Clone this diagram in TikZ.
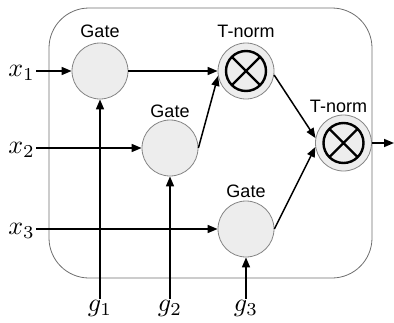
\documentclass[tikz,border=0pt]{standalone}
\usepackage{graphicx}
\usepackage{fontspec}
\setmainfont{Liberation Sans}
\usetikzlibrary{arrows.meta}
\definecolor{nodefill}{HTML}{EDEDED}
\definecolor{nodeline}{HTML}{858585}
\definecolor{boxline}{HTML}{6E6E6E}
\newcommand{\largemathlabel}[1]{\scalebox{2.6}{$#1$}}
\tikzset{
  arr/.style={line width=1.5pt, -{Triangle[length=10pt,width=8pt]}},
  gatenode/.style={circle, minimum size=56pt, inner sep=0pt, fill=nodefill, draw=nodeline, line width=0.8pt},
  tnormnode/.style={gatenode, path picture={
      \draw[draw=black, line width=2.4pt, shift={(path picture bounding box.center)}]
        (0,0) circle[radius=20pt] (45:20pt) -- (225:20pt) (135:20pt) -- (315:20pt);}},
  lbl/.style={inner sep=0pt, font=\fontsize{18}{20}\selectfont},
  mathlbl/.style={inner sep=1pt},
}
\begin{document}
\begin{tikzpicture}[x=1pt, y=-1pt]
\useasboundingbox (0,0) rectangle (394,322);
% outer box
\node[draw=boxline, line width=0.8pt, rounded corners=40pt, minimum width=323pt, minimum height=270pt, inner sep=0pt] (box) at (210.5,143) {};
% nodes
\node[gatenode] (gate1) at (100,71) {};
\node[gatenode] (gate2) at (170,148) {};
\node[gatenode] (gate3) at (246,229) {};
\node[tnormnode] (t1) at (246,71) {};
\node[tnormnode] (t2) at (343.5,143) {};
% labels
\node[lbl] (lg1) at (100,31.5) {Gate};
\node[lbl] (lg2) at (170,111) {Gate};
\node[lbl] (lg3) at (246,191) {Gate};
\node[lbl] (lt1) at (246,31.5) {T-norm};
\node[lbl] (lt2) at (338.5,106) {T-norm};
% inputs
\node[mathlbl, anchor=base east] (x1) at (36,76.6) {\largemathlabel{x_1}};
\node[mathlbl, anchor=base east] (x2) at (36,153.6) {\largemathlabel{x_2}};
\node[mathlbl, anchor=base east] (x3) at (36,234.6) {\largemathlabel{x_3}};
\node[mathlbl, anchor=north] (gi1) at (100,299) {\largemathlabel{g_1}};
\node[mathlbl, anchor=north] (gi2) at (170,299) {\largemathlabel{g_2}};
\node[mathlbl, anchor=north] (gi3) at (246,299) {\largemathlabel{g_3}};
\coordinate (out) at (394,143);
% connectors
\draw[arr] (x1.east |- gate1) -- (gate1);
\draw[arr] (x2.east |- gate2) -- (gate2);
\draw[arr] (x3.east |- gate3) -- (gate3);
\draw[arr] (gi1.north) -- (gate1);
\draw[arr] (gi2.north) -- (gate2);
\draw[arr] (gi3.north) -- (gate3);
\draw[arr] (gate1) -- (t1);
\draw[arr] (gate2.east) -- (t1.190);
\draw[arr] (t1.-8) -- (t2.170);
\draw[arr] (gate3.east) -- (t2.188);
\draw[arr] (t2.east) -- (out);
\end{tikzpicture}
\end{document}
